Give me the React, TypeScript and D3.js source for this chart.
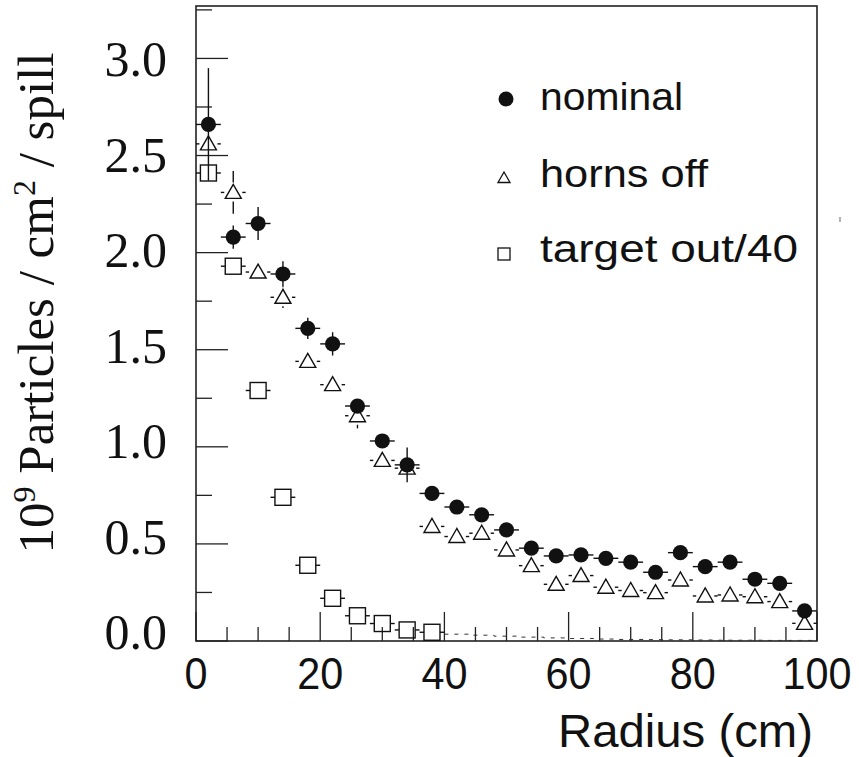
import React from "react";
import * as d3 from "d3";

const radius = [2, 6, 10, 14, 18, 22, 26, 30, 34, 38, 42, 46, 50, 54, 58, 62, 66, 70, 74, 78, 82, 86, 90, 94, 98];
const nominal = [2.66, 2.08, 2.15, 1.89, 1.61, 1.53, 1.21, 1.03, 0.907, 0.76, 0.69, 0.65, 0.572, 0.478, 0.438, 0.443, 0.426, 0.406, 0.354, 0.455, 0.383, 0.406, 0.318, 0.297, 0.155];
const nominalErr = [0.29, 0.06, 0.085, 0.065, 0.055, 0.06, 0.03, 0.03, 0.09, 0.02, 0.02, 0.02, 0.02, 0.02, 0.02, 0.02, 0.02, 0.02, 0.02, 0.02, 0.02, 0.02, 0.02, 0.02, 0.02];
const hornsOff = [2.56, 2.31, 1.9, 1.77, 1.44, 1.32, 1.16, 0.93, 0.89, 0.59, 0.538, 0.555, 0.469, 0.388, 0.292, 0.337, 0.277, 0.26, 0.249, 0.314, 0.232, 0.237, 0.228, 0.203, 0.091];
const hornsOffErr = [0.03, 0.11, 0.045, 0.055, 0.03, 0.045, 0.065, 0.02, 0.02, 0.02, 0.02, 0.02, 0.02, 0.02, 0.02, 0.02, 0.02, 0.02, 0.02, 0.02, 0.02, 0.02, 0.02, 0.02, 0.02];
const targetOutRadius = [2, 6, 10, 14, 18, 22, 26, 30, 34, 38];
const targetOut = [2.41, 1.93, 1.29, 0.74, 0.39, 0.22, 0.13, 0.09, 0.057, 0.045];
const tailRadius = [42, 46, 50, 54, 58, 62, 66, 70, 74, 78, 82, 86, 90, 94, 98];
const targetOutTail = [0.035, 0.03, 0.025, 0.02, 0.016, 0.013, 0.01, 0.008, 0.007, 0.006, 0.005, 0.004, 0.004, 0.003, 0.003];

const xTicks = [0, 20, 40, 60, 80, 100];
const yTicks = [0, 0.5, 1, 1.5, 2, 2.5, 3];
const yTickLabels = ["0.0", "0.5", "1.0", "1.5", "2.0", "2.5", "3.0"];
const legendItems = ["nominal", "horns off", "target out/40"];
const binHalf = 2;

const W = 859;
const H = 757;
const x = d3.scaleLinear().domain([0, 100]).range([196, 817]);
const y = d3.scaleLinear().domain([0, 3.27]).range([641, 6]);
const yLabel = d3.scaleLinear().domain([0, 3]).range([632, 59]);

const ink = "#111";
const serif = "'Liberation Serif', 'Times New Roman', serif";
const sans = "'Liberation Sans', Arial, sans-serif";

function triPath(cx: number, cy: number, s: number) {
  const p = d3.path();
  p.moveTo(cx, cy - s);
  p.lineTo(cx - s, cy + s * 0.75);
  p.lineTo(cx + s, cy + s * 0.75);
  p.closePath();
  return p.toString();
}

function vBar(cx: number, v: number, e: number, halfIn: number, halfOutBottom: number, key: string) {
  const cy = y(v);
  const top = y(v + e);
  const bot = y(Math.max(0, v - e));
  const segs: JSX.Element[] = [];
  if (cy - halfIn > top) segs.push(<line key={key + "t"} x1={cx} x2={cx} y1={top} y2={cy - halfIn} />);
  if (bot > cy + halfOutBottom) segs.push(<line key={key + "b"} x1={cx} x2={cx} y1={cy + halfOutBottom} y2={bot} />);
  return segs;
}

export default function App() {
  const minorX = d3.range(0, 101, 5).filter((t) => t % 20 !== 0);
  const minorY = d3.range(0.25, 3.27, 0.5);

  const tailPts: [number, number][] = [];
  tailRadius.forEach((r, i) => {
    tailPts.push([x(r - binHalf), y(targetOutTail[i])]);
    tailPts.push([x(r + binHalf), y(targetOutTail[i])]);
  });
  const tailPath = d3.line()(tailPts) || "";

  return (
    <svg width={W} height={H} style={{ position: "absolute", left: 0, top: 0, background: "#fff" }}>
      <rect x={0} y={0} width={W} height={H} fill="#fff" />
      {/* frame */}
      <rect x={x(0)} y={y(3.27)} width={x(100) - x(0)} height={y(0) - y(3.27)} fill="none" stroke="#222" strokeWidth={1.6} />
      {/* ticks */}
      <g stroke="#222" strokeWidth={1.3}>
        {yTicks.map((t) => (
          <line key={"yt" + t} x1={x(0)} x2={x(0) + 32} y1={y(t)} y2={y(t)} />
        ))}
        {minorY.map((t) => (
          <line key={"ym" + t} x1={x(0)} x2={x(0) + 16} y1={y(t)} y2={y(t)} />
        ))}
        {xTicks.map((t) => (
          <line key={"xt" + t} x1={x(t)} x2={x(t)} y1={y(0)} y2={y(0) - 29} />
        ))}
        {minorX.map((t) => (
          <line key={"xm" + t} x1={x(t)} x2={x(t)} y1={y(0)} y2={y(0) - 14} />
        ))}
      </g>
      {/* y tick labels */}
      <g fontFamily={serif} fontSize={50} fill={ink} textAnchor="end">
        {yTicks.map((t, i) => (
          <text key={"yl" + t} x={167} y={yLabel(t) + 17}>
            {yTickLabels[i]}
          </text>
        ))}
      </g>
      {/* x tick labels */}
      <g fontFamily={sans} fontSize={45} fill={ink} textAnchor="middle">
        {xTicks.map((t) => (
          <text
            key={"xl" + t}
            x={x(t)}
            y={689}
            textLength={String(t).length * 23}
            lengthAdjust="spacingAndGlyphs"
          >
            {t}
          </text>
        ))}
      </g>
      {/* axis titles */}
      <text
        x={558}
        y={747}
        fontFamily={sans}
        fontSize={46}
        fill={ink}
        textLength={255}
        lengthAdjust="spacingAndGlyphs"
      >
        Radius (cm)
      </text>
      <text
        transform={`translate(53,303) rotate(-90)`}
        textAnchor="middle"
        fontFamily={serif}
        fontSize={51}
        fill={ink}
      >
        10<tspan dy={-18} fontSize={32}>9</tspan>
        <tspan dy={18}> Particles / cm</tspan>
        <tspan dy={-18} fontSize={32}>2</tspan>
        <tspan dy={18}> / spill</tspan>
      </text>

      {/* target out tail (dashed) */}
      <path d={tailPath} fill="none" stroke="#333" strokeWidth={1} strokeDasharray="4,6" />

      {/* nominal error bars */}
      <g stroke={ink} strokeWidth={1.4}>
        {radius.map((r, i) => (
          <g key={"ne" + i}>
            <line x1={x(r - binHalf)} x2={x(r + binHalf)} y1={y(nominal[i])} y2={y(nominal[i])} />
            <line x1={x(r)} x2={x(r)} y1={y(nominal[i] + nominalErr[i])} y2={y(nominal[i] - nominalErr[i])} />
          </g>
        ))}
      </g>
      {/* horns off */}
      <g stroke={ink} strokeWidth={1.4} fill="none">
        {radius.map((r, i) => {
          const cx = x(r);
          const cy = y(hornsOff[i]);
          return (
            <g key={"ho" + i}>
              <line x1={x(r - binHalf)} x2={cx - 9} y1={cy} y2={cy} />
              <line x1={cx + 9} x2={x(r + binHalf)} y1={cy} y2={cy} />
              {vBar(cx, hornsOff[i], hornsOffErr[i], 10, 9, "hv" + i)}
              <path d={triPath(cx, cy, 8)} />
            </g>
          );
        })}
      </g>
      {/* target out */}
      <g stroke={ink} strokeWidth={1.4} fill="none">
        {targetOutRadius.map((r, i) => {
          const cx = x(r);
          const cy = y(targetOut[i]);
          return (
            <g key={"to" + i}>
              <line x1={x(r - binHalf)} x2={cx - 8} y1={cy} y2={cy} />
              <line x1={cx + 8} x2={x(r + binHalf)} y1={cy} y2={cy} />
              <rect x={cx - 8} y={cy - 8} width={16} height={16} />
            </g>
          );
        })}
      </g>
      {/* nominal markers */}
      <g fill={ink}>
        {radius.map((r, i) => (
          <circle key={"nm" + i} cx={x(r)} cy={y(nominal[i])} r={7.6} />
        ))}
      </g>

      {/* legend */}
      <g fontFamily={sans} fontSize={38} fill={ink} lengthAdjust="spacingAndGlyphs">
        <circle cx={506} cy={99} r={7.5} fill={ink} />
        <text x={540} y={110} textLength={143} lengthAdjust="spacingAndGlyphs">{legendItems[0]}</text>
        <path d={triPath(504, 178, 6)} fill="none" stroke={ink} strokeWidth={1.3} />
        <text x={540} y={187} textLength={168} lengthAdjust="spacingAndGlyphs">{legendItems[1]}</text>
        <rect x={498} y={248} width={12} height={12} fill="none" stroke={ink} strokeWidth={1.3} />
        <text x={540} y={262} textLength={258} lengthAdjust="spacingAndGlyphs">{legendItems[2]}</text>
      </g>
      {/* stray mark */}
      <line x1={840} x2={840} y1={217} y2={222} stroke="#666" strokeWidth={1} />
    </svg>
  );
}
